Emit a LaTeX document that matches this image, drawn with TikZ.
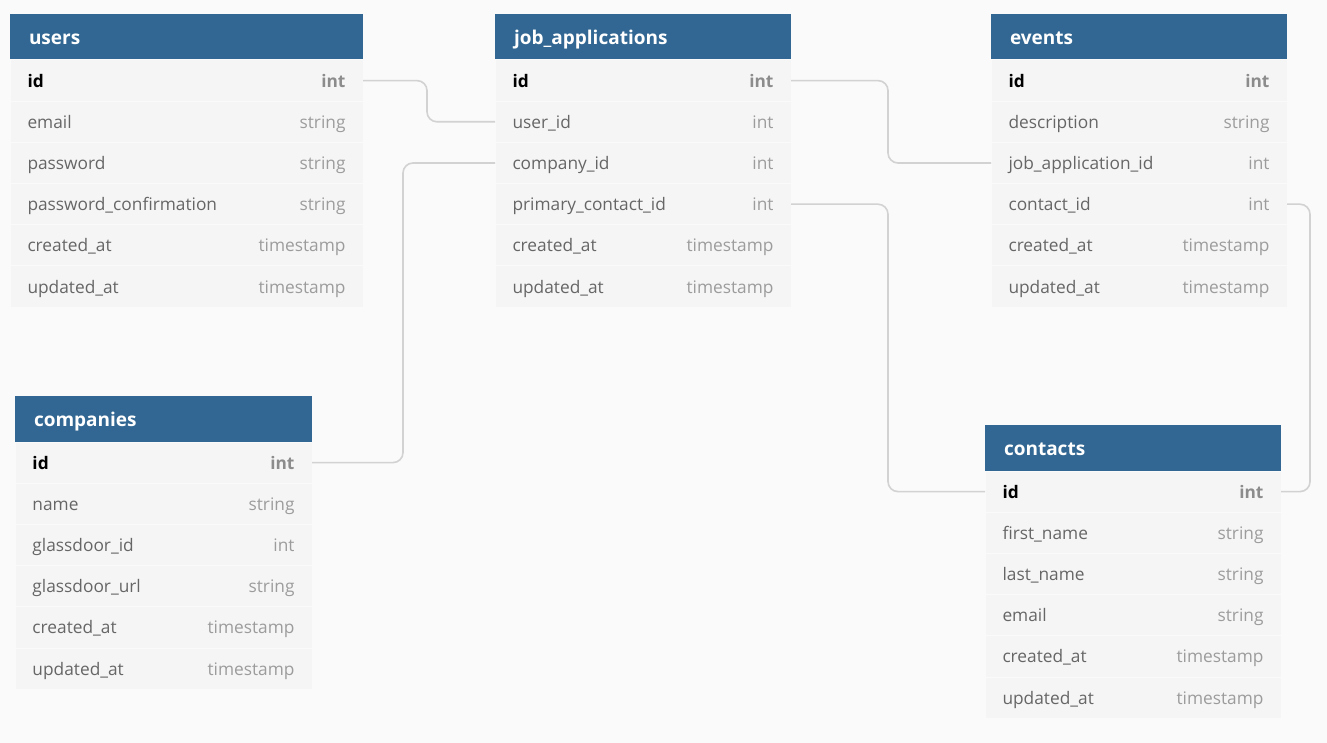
\documentclass[tikz,border=0pt]{standalone}
\usepackage{fontspec}
\setmainfont{Open Sans}
\usetikzlibrary{positioning}

\definecolor{bgcol}{HTML}{FAFAFA}
\definecolor{headblue}{HTML}{316792}
\definecolor{rowfill}{HTML}{F5F5F5}
\definecolor{namegray}{HTML}{666666}
\definecolor{typegray}{HTML}{9C9C9C}
\definecolor{keygray}{HTML}{8C8C8C}
\definecolor{linkgray}{HTML}{D2D2D2}

\begin{document}
\begin{tikzpicture}[x=0.5pt, y=-0.5pt,
  every node/.style={font=\fontsize{8.65}{10}\selectfont, inner ysep=0pt, outer sep=0pt},
  head/.style={anchor=north west, fill=headblue, text=white, font=\fontsize{9.5}{11}\selectfont\bfseries, minimum height=23pt, inner xsep=9.5pt, text width=#1, text height=9.3pt, text depth=2pt},
  keyrow/.style={fill=rowfill, draw=bgcol, line width=0.5pt, text=black, font=\fontsize{8.65}{10}\selectfont\bfseries, minimum height=20.6pt, inner xsep=8.75pt, text width=#1, text height=8.5pt, text depth=2pt},
  fieldrow/.style={keyrow=#1, text=namegray, font=\fontsize{8.65}{10}\selectfont},
  link/.style={draw=linkgray, line width=0.8pt, rounded corners=5pt}]

  \fill[bgcol] (0,0) rectangle (1327,743);

  \node[head=157.5pt] (users) at (10,14) {users};
  \node[keyrow=159pt, below=0pt of users] (users-1) {id\hfill\textcolor{keygray}{int}};
  \foreach \f/\t [count=\i from 2, evaluate=\i as \j using int(\i-1)] in {email/string, password/string, password\_confirmation/string, created\_at/timestamp, updated\_at/timestamp}
    \node[fieldrow=159pt, below=0pt of users-\j] (users-\i) {\f\hfill\textcolor{typegray}{\t}};

  \node[head=129pt] (ja) at (495,14) {job\_applications};
  \node[keyrow=130.5pt, below=0pt of ja] (ja-1) {id\hfill\textcolor{keygray}{int}};
  \foreach \f/\t [count=\i from 2, evaluate=\i as \j using int(\i-1)] in {user\_id/int, company\_id/int, primary\_contact\_id/int, created\_at/timestamp, updated\_at/timestamp}
    \node[fieldrow=130.5pt, below=0pt of ja-\j] (ja-\i) {\f\hfill\textcolor{typegray}{\t}};

  \node[head=129pt] (events) at (991,14) {events};
  \node[keyrow=130.5pt, below=0pt of events] (events-1) {id\hfill\textcolor{keygray}{int}};
  \foreach \f/\t [count=\i from 2, evaluate=\i as \j using int(\i-1)] in {description/string, job\_application\_id/int, contact\_id/int, created\_at/timestamp, updated\_at/timestamp}
    \node[fieldrow=130.5pt, below=0pt of events-\j] (events-\i) {\f\hfill\textcolor{typegray}{\t}};

  \node[head=129.5pt] (companies) at (15,396) {companies};
  \node[keyrow=131pt, below=0pt of companies] (companies-1) {id\hfill\textcolor{keygray}{int}};
  \foreach \f/\t [count=\i from 2, evaluate=\i as \j using int(\i-1)] in {name/string, glassdoor\_id/int, glassdoor\_url/string, created\_at/timestamp, updated\_at/timestamp}
    \node[fieldrow=131pt, below=0pt of companies-\j] (companies-\i) {\f\hfill\textcolor{typegray}{\t}};

  \node[head=129pt] (contacts) at (985,425) {contacts};
  \node[keyrow=130.5pt, below=0pt of contacts] (contacts-1) {id\hfill\textcolor{keygray}{int}};
  \foreach \f/\t [count=\i from 2, evaluate=\i as \j using int(\i-1)] in {first\_name/string, last\_name/string, email/string, created\_at/timestamp, updated\_at/timestamp}
    \node[fieldrow=130.5pt, below=0pt of contacts-\j] (contacts-\i) {\f\hfill\textcolor{typegray}{\t}};

  \draw[link] (users-1.east) -- ++(64,0) |- (ja-2.west);
  \draw[link] (companies-1.east) -- ++(91,0) |- (ja-3.west);
  \draw[link] (ja-1.east) -- ++(97,0) |- (events-3.west);
  \draw[link] (ja-4.east) -- ++(97,0) |- (contacts-1.west);
  \draw[link] (events-4.east) -- ++(23,0) |- (contacts-1.east);
\end{tikzpicture}
\end{document}
